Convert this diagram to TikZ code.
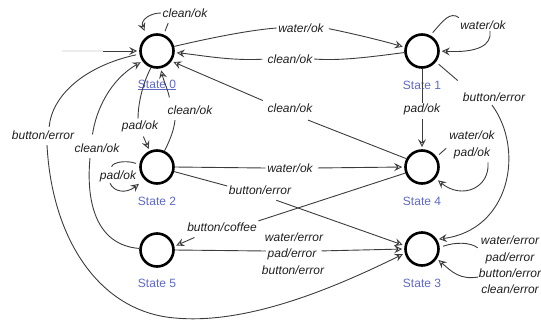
\documentclass[tikz,border=0pt]{standalone}
\usepackage{fontspec}
\setmainfont{Liberation Sans}
\usetikzlibrary{arrows.meta}
\definecolor{edgec}{RGB}{60,60,60}
\definecolor{stlbl}{RGB}{95,105,195}
\begin{document}
\begin{tikzpicture}[x=1pt,y=-1pt,
  state/.style={circle,draw=black,line width=2.6pt,minimum size=33pt,inner sep=0pt},
  stname/.style={font=\fontsize{12}{13}\selectfont,text=stlbl,inner sep=0pt},
  lbl/.style={font=\itshape\fontsize{12}{16.3}\selectfont,inner sep=1.5pt,text=black!88},
  tr/.style={draw=edgec,line width=0.9pt,shorten <=3.5pt,shorten >=2pt},
  arr/.style={-{Stealth[open,length=8pt,width=8pt,inset=3pt]}},
]
\useasboundingbox (0,0) rectangle (541,327);

% states
\node[state] (s0) at (157,51) {};
\node[state] (s1) at (422,51) {};
\node[state] (s2) at (157,167) {};
\node[state] (s4) at (422,167) {};
\node[state] (s5) at (157,250) {};
\node[state] (s3) at (422,249) {};

\node[stname] (n0) at (157,85) {\underline{State 0}};
\node[stname] (n1) at (422,85) {State 1};
\node[stname] (n2) at (157,201) {State 2};
\node[stname] (n4) at (422,201) {State 4};
\node[stname] (n5) at (157,283) {State 5};
\node[stname] (n3) at (422,283) {State 3};

% labels
\node[lbl] (l00) at (185,13) {clean/ok};
\node[lbl] (l01) at (301,28) {water/ok};
\node[lbl] (l10) at (290,59) {clean/ok};
\node[lbl] (l40) at (290,108) {clean/ok};
\node[lbl] (l11) at (483,25) {water/ok};
\node[lbl,fill=white,inner sep=0.5pt] (l14) at (422,109) {pad/ok};
\node[lbl] (l13) at (494,97) {button/error};
\node[lbl,align=center] (l44) at (472,145) {water/ok\\pad/ok};
\node[lbl] (l20) at (140,126) {pad/ok};
\node[lbl] (l02) at (190,110) {clean/ok};
\node[lbl] (l22) at (118,176) {pad/ok};
\node[lbl] (l24) at (290,168) {water/ok};
\node[lbl] (l23) at (260,190) {button/error};
\node[lbl] (l45) at (222,227) {button/coffee};
\node[lbl] (l53a) at (294,237) {water/error};
\node[lbl] (l53b) at (292,254) {pad/error};
\node[lbl] (l53c) at (293,270) {button/error};
\node[lbl] (l50) at (97,148) {clean/ok};
\node[lbl] (l03) at (43,135) {button/error};
\node[lbl,align=center] (l33) at (510,265) {water/error\\pad/error\\button/error\\clean/error};

% initial arrow
\coordinate (init0) at (62,51);
\coordinate (init) at (103,51);
\draw[black!7,line width=1.5pt] (init0) -- (init);
\draw[tr,arr,shorten <=0pt] (init) -- (s0);

% state 0 self loop
\draw[tr] (s0.68) -- ([shift={(8,2)}]l00.south west);
\draw[tr,arr,shorten <=0pt,shorten >=6pt] (l00.west) .. controls (150,13) and (140,20) .. (s0.125);

% s0 -> s1 water/ok
\draw[tr,arr] (s0.15) .. controls (210,38) and (250,30) .. (l01.west)
  (l01.east) .. controls (350,33) and (380,40) .. (s1.168);

% s1 -> s0 clean/ok
\draw[tr,arr] (s1.185) .. controls (370,57) and (340,61) .. (l10.east)
  (l10.west) .. controls (230,61) and (200,55) .. (s0.-5);

% s4 -> s0 clean/ok
\draw[tr,arr] (s4.152) -- ([shift={(-6,6)}]l40.south east)
  (l40.north west) -- (s0.-35);

% s1 self loop
\draw[tr] (s1.62) .. controls (443,21) and (450,11) .. ([shift={(2,0)}]l11.north west);
\draw[tr,arr,shorten <=0pt] ([shift={(7,0)}]l11.south) .. controls (492,45) and (478,53) .. (s1.east);

% s1 -> s4 pad/ok
\draw[tr,arr] (s1.south) -- (l14.north) (l14.south) -- (s4.north);

% s1 -> s3 button/error
\draw[tr] (s1.-38) -- ([shift={(-2,-9)}]l13.north west);
\draw[tr,arr,shorten <=0pt] ([shift={(-2,2)}]l13.south) .. controls (525,150) and (510,230) .. (s3.33);

% s4 self loop
\draw[tr] (s4.35) -- ([shift={(0,2)}]l44.west);
\draw[tr,arr,shorten <=0pt,shorten >=3pt] ([shift={(16,2)}]l44.south) .. controls (490,188) and (462,200) .. (s4.-40);

% s0 -> s2 pad/ok
\draw[tr,arr] (s0.-110) .. controls (142,85) and (138,105) .. ([shift={(-2,0)}]l20.north)
  ([shift={(2,0)}]l20.south) -- (s2.115);

% s2 -> s0 clean/ok
\draw[tr,arr] (s2.65) .. controls (170,140) and (174,130) .. ([shift={(-15,4)}]l02.south)
  ([shift={(-20,-3)}]l02.north) .. controls (168,90) and (164,82) .. (s0.-78);

% s2 self loop
\draw[tr] (s2.172) .. controls (126,160) and (113,162) .. ([shift={(-7,0)}]l22.north);
\draw[tr,arr,shorten <=0pt,shorten >=7pt] ([shift={(-8,0)}]l22.south) .. controls (114,192) and (126,194) .. (s2.-135);

% s2 -> s4 water/ok
\draw[tr,arr] (s2.east) -- (l24.west) (l24.east) -- (s4.west);

% s2 -> s3 button/error
\draw[tr,arr] (s2.-15) -- ([shift={(0,-4)}]l23.west)
  ([shift={(13,3)}]l23.south) -- (s3.169);

% s4 -> s5 button/coffee
\draw[tr,arr] (s4.-160) -- (l45.north east)
  ([shift={(12,3)}]l45.south west) -- (s5.12);

% s5 -> s3 water/error pad/error button/error
\draw[tr,arr] (s5.east) -- ([shift={(0,-3)}]l53b.west)
  ([shift={(0,-3)}]l53b.east) -- (s3.west);

% s5 -> s0 clean/ok
\draw[tr,arr] (s5.175) .. controls (95,245) and (86,200) .. ([shift={(-7,4)}]l50.south)
  ([shift={(-5,-4)}]l50.north) .. controls (96,110) and (110,80) .. (s0.-145);

% s0 -> s3 button/error
\coordinate (b03) at (175,318);
\draw[tr] (s0.190) .. controls (85,66) and (52,95) .. ([shift={(6,0)}]l03.north);
\draw[tr,arr,shorten <=0pt] ([shift={(4,4)}]l03.south) .. controls (52,240) and (100,312) .. (b03)
  .. controls (250,325) and (340,285) .. (s3.194);

% s3 self loop
\draw[tr] (s3.5) .. controls (455,242) and (470,242) .. ([shift={(2,-16)}]l33.west);
\draw[tr,arr,shorten <=0pt] ([shift={(1,12)}]l33.west) .. controls (460,280) and (452,272) .. (s3.-33);
\end{tikzpicture}
\end{document}
